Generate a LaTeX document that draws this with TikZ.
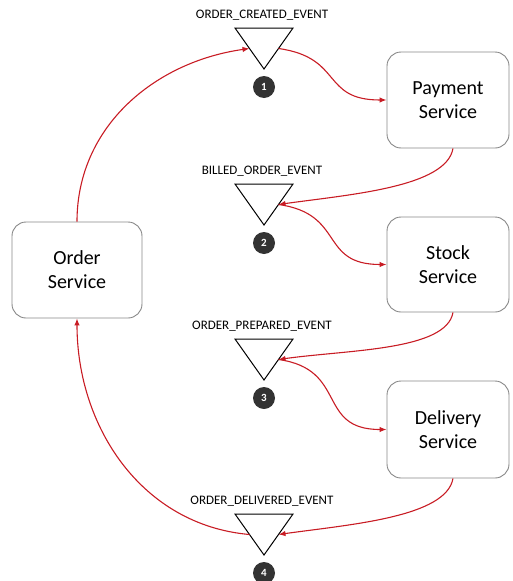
\documentclass[tikz,border=0pt]{standalone}
\usepackage{fontspec}
\setmainfont{Carlito}
\usetikzlibrary{arrows.meta}
\definecolor{flowred}{RGB}{200,28,36}
\definecolor{boxgray}{RGB}{135,135,135}
\begin{document}
\begin{tikzpicture}[x=1pt,y=1pt,
    service/.style={draw=boxgray, line width=0.9pt, rounded corners=14pt,
      minimum width=122pt, minimum height=96pt, align=center,
      font=\fontsize{20}{24}\selectfont},
    flow/.style={draw=flowred, line width=1.1pt, -{Latex[length=7pt,width=5.5pt]}},
    back/.style={out=-100, in=8, out looseness=0.55, in looseness=1},
    forth/.style={out=-8, in=180, looseness=1.4},
    evlabel/.style={font=\fontsize{13}{15}\selectfont},
    evnum/.style={circle, fill=black!80, text=white, inner sep=0pt,
      minimum size=22pt, font=\bfseries\fontsize{11}{11}\selectfont}]
  \useasboundingbox (0,0) rectangle (512,-581);
  \node[service, minimum width=130pt] (order) at (77,-270) {Order\\Service};
  \node[service] (payment) at (448,-100) {Payment\\Service};
  \node[service, minimum height=95pt] (stock) at (448,-264.5) {Stock\\Service};
  \node[service, minimum height=97pt] (delivery) at (448,-429.5) {Delivery\\Service};
  \foreach \n/\y/\txt in {1/28/ORDER\_CREATED\_EVENT, 2/184/BILLED\_ORDER\_EVENT,
      3/339/ORDER\_PREPARED\_EVENT, 4/514/ORDER\_DELIVERED\_EVENT} {
    \coordinate (ev\n) at (264,-\y);
    \draw[line width=1pt] (ev\n) ++(-29,0) -- ++(58,0) -- ++(-29,-41) -- cycle;
    \coordinate (ev\n-l) at (249.5,{-\y-20.5});
    \coordinate (ev\n-r) at (278.5,{-\y-20.5});
    \node[evlabel] (lab\n) at (262,{-\y+13}) {\txt};
    \node[evnum] (num\n) at (264,{-\y-59}) {\n};
  }
  \draw[flow] (order.north) to[out=90,in=188] (ev1-l);
  \draw[flow] (ev1-r) to[forth] (payment.west);
  \draw[flow] ([xshift=5pt]payment.south) to[back] (ev2-r);
  \draw[flow] (ev2-r) to[forth] (stock.west);
  \draw[flow] ([xshift=5pt]stock.south) to[back] (ev3-r);
  \draw[flow] (ev3-r) to[forth] (delivery.west);
  \draw[flow] ([xshift=5pt]delivery.south) to[back] (ev4-r);
  \draw[flow] (ev4-l) to[out=175,in=-90] (order.south);
\end{tikzpicture}
\end{document}
